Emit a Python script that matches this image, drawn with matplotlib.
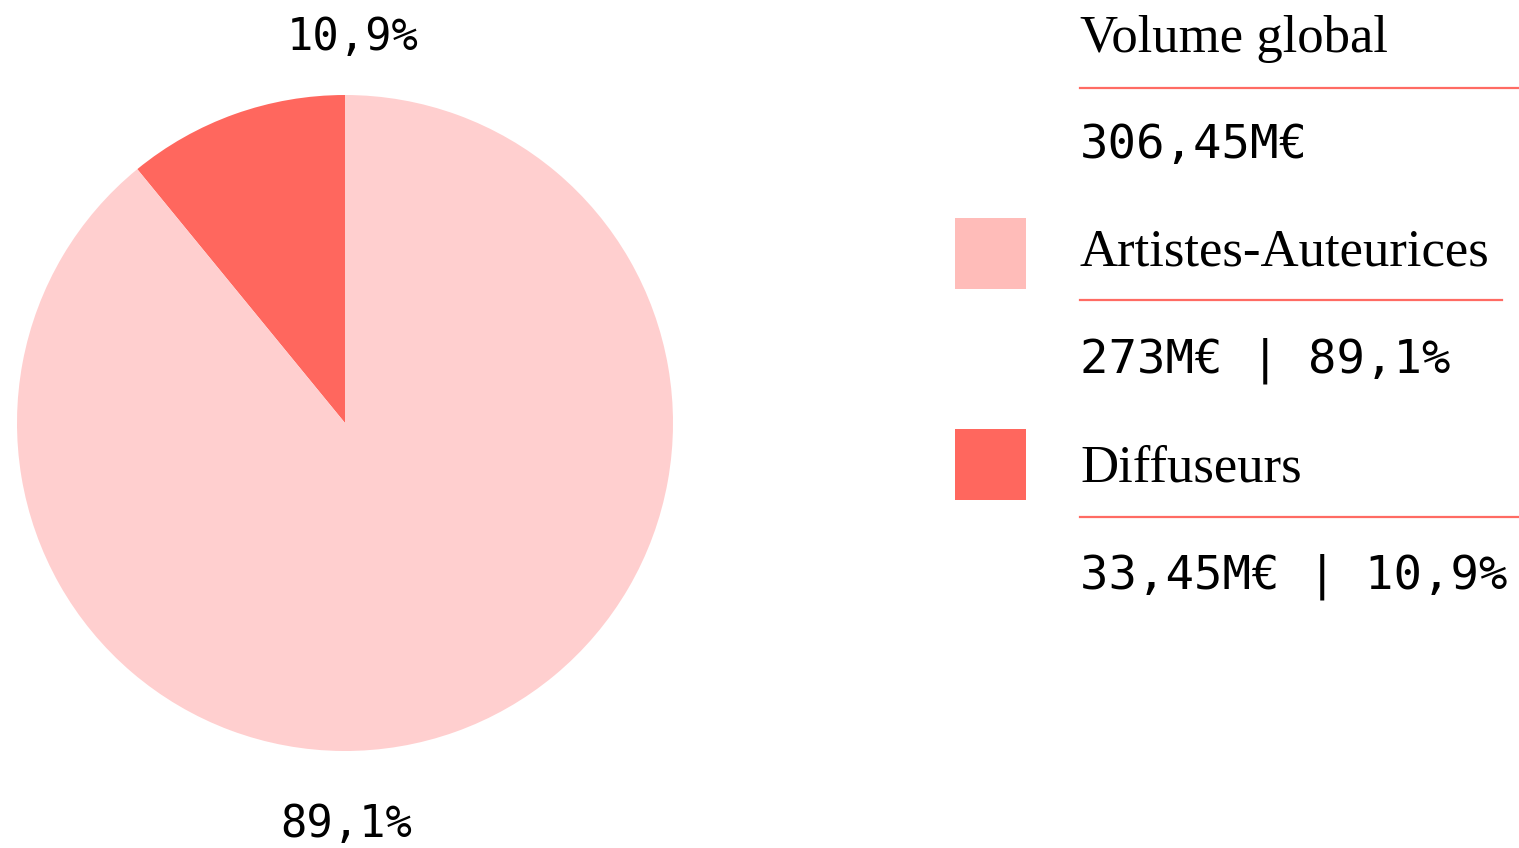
import matplotlib
matplotlib.use("Agg")
import matplotlib.pyplot as plt
from matplotlib.patches import Rectangle

# data
categories = ["Diffuseurs", "Artistes-Auteurices"]
values_meur = [33.45, 273.0]
shares_pct = ["10,9%", "89,1%"]
value_labels = ["33,45M€", "273M€"]
total_label = "306,45M€"

pie_colors = ["#FF675E", "#FFCFCF"]
square_colors = ["#FF675E", "#FFBCB9"]
line_color = "#FF6B63"

W, H = 1519, 848
SERIF = ["Liberation Serif", "DejaVu Serif"]
MONO = ["DejaVu Sans Mono"]


def fx(x):
    return x / W


def fy(y):
    return 1 - y / H


fig = plt.figure(figsize=(W / 100, H / 100), dpi=100)

# pie: centre ~(345, 423), radius ~328 px
ax = fig.add_axes([fx(17), fy(751), 656 / W, 656 / H])
ax.pie(values_meur, colors=pie_colors, startangle=90, counterclock=True,
       radius=1, wedgeprops=dict(linewidth=0))
ax.set_xlim(-1, 1)
ax.set_ylim(-1, 1)
ax.set_aspect("equal")
ax.axis("off")

fig.text(fx(353), fy(50), shares_pct[0], family=MONO, fontsize=31.5,
         ha="center", va="baseline")
fig.text(fx(346), fy(837), shares_pct[1], family=MONO, fontsize=31.5,
         ha="center", va="baseline")

# legend column
x0 = 1080
fig.text(fx(x0), fy(52), "Volume global", family=SERIF, fontsize=38,
         va="baseline")
fig.add_artist(plt.Line2D([fx(x0), fx(1519)], [fy(88), fy(88)],
                          color=line_color, lw=1.6))
fig.text(fx(x0), fy(158), total_label, family=MONO, fontsize=34,
         va="baseline")

# (name, value, share, colour, square top, text baseline, line y, value baseline, line end)
rows = [
    (categories[1], value_labels[1], shares_pct[1], square_colors[1], 218, 266, 300, 373, 1502),
    (categories[0], value_labels[0], shares_pct[0], square_colors[0], 429, 481, 517, 589, 1519),
]
for name, val, pct, col, top, base, ly, vbase, line_end in rows:
    fig.add_artist(Rectangle((fx(955), fy(top + 71)), 71 / W, 71 / H,
                             facecolor=col, edgecolor="none",
                             transform=fig.transFigure))
    fig.text(fx(x0), fy(base), name, family=SERIF, fontsize=38,
             va="baseline")
    fig.add_artist(plt.Line2D([fx(x0), fx(line_end)], [fy(ly), fy(ly)],
                              color=line_color, lw=1.6))
    fig.text(fx(x0), fy(vbase), f"{val} | {pct}", family=MONO, fontsize=34,
             va="baseline")

fig.savefig("out.png", dpi=100, facecolor="white")
